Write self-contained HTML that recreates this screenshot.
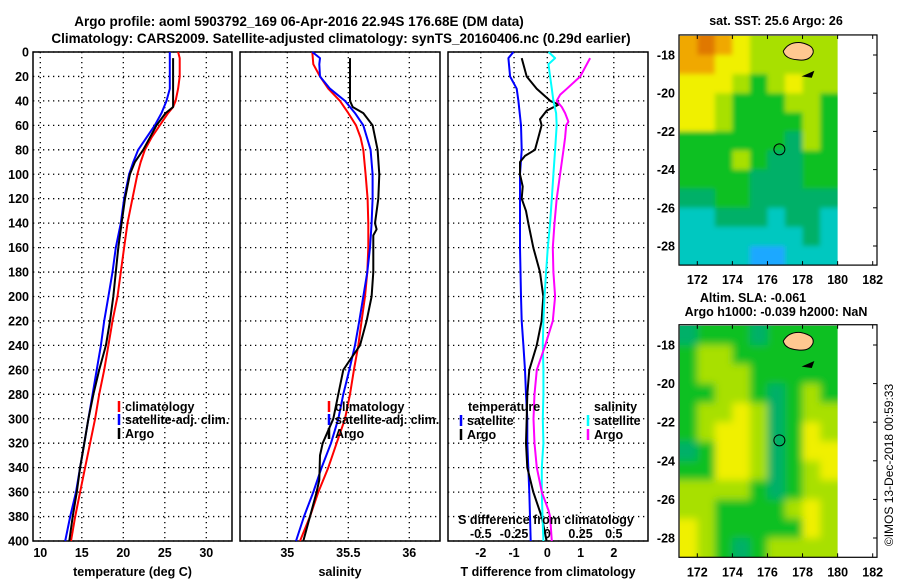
<!DOCTYPE html>
<html><head><meta charset="utf-8"><style>
html,body{margin:0;padding:0;background:#fff;width:900px;height:580px;overflow:hidden}
svg text{font-family:"Liberation Sans",sans-serif;font-weight:bold;fill:#000}
</style></head><body>
<svg id="chart" width="900" height="580" viewBox="0 0 900 580" xmlns="http://www.w3.org/2000/svg">
<text x="299" y="26" font-size="13.5" text-anchor="middle">Argo profile: aoml 5903792_169 06-Apr-2016 22.94S 176.68E (DM data)</text>
<text x="341" y="43" font-size="13.5" text-anchor="middle">Climatology: CARS2009. Satellite-adjusted climatology: synTS_20160406.nc (0.29d earlier)</text>
<g id="g1"></g>
<g id="g2"></g>
<g id="g3"></g>
<g id="m1"></g>
<g id="m2"></g>
<text x="776" y="25" font-size="12.5" text-anchor="middle">sat. SST: 25.6 Argo: 26</text>
<text x="753" y="302" font-size="12.5" text-anchor="middle">Altim. SLA: -0.061</text>
<text x="776" y="316" font-size="12.5" text-anchor="middle">Argo h1000: -0.039 h2000: NaN</text>
<text x="0" y="0" font-size="12" style="font-weight:normal" text-anchor="middle" transform="translate(893,465) rotate(-90)">©IMOS 13-Dec-2018 00:59:33</text>
</svg>
<script>
// ---- data ----
const depthTicks = [0,20,40,60,80,100,120,140,160,180,200,220,240,260,280,300,320,340,360,380,400];
const tempTicks = [10,15,20,25,30];
const salTicks = [35,35.5,36];
const tdiffTicks = [-2,-1,0,1,2];
const sdiffTicks = [-0.5,-0.25,0,0.25,0.5];
const sdiffLabels = ["-0.5","-0.25","0","0.25","0.5"];

const tClimDepth = [0,5,20,30,40,45,50,60,70,80,90,100,120,140,160,180,200,220,240,260,280,300,320,340,360,380,400];
const tClim = [26.6,26.8,26.8,26.6,26.3,26.0,25.4,24.4,23.4,22.6,22.1,21.7,21.1,20.5,20.1,19.7,19.3,18.7,18.2,17.7,17.1,16.6,16.0,15.4,14.8,14.2,13.7];
const tSatDepth = [0,30,40,50,60,70,80,90,100,120,140,160,180,200,220,240,260,280,300,320,340,360,380,400];
const tSat = [25.6,25.6,25.2,24.6,23.8,22.8,21.8,21.2,20.7,20.1,19.7,19.1,18.7,18.2,17.7,17.3,16.8,16.3,15.8,15.3,14.8,14.3,13.6,13.0];
const tArgoDepth = [5,40,45,50,60,70,80,90,100,120,140,160,180,200,220,240,260,280,300,320,340,360,380,400];
const tArgo = [26.0,26.0,26.0,25.1,24.0,23.2,22.4,21.4,20.8,20.2,19.8,19.4,19.1,18.8,18.4,17.9,17.1,16.4,15.8,15.3,14.8,14.4,13.9,13.5];

const sClimDepth = [0,10,20,30,40,50,60,70,80,100,120,140,160,180,200,220,240,260,280,300,320,340,360,380,400];
const sClim = [35.205,35.213,35.268,35.336,35.432,35.500,35.563,35.601,35.623,35.642,35.658,35.664,35.664,35.656,35.637,35.609,35.582,35.546,35.514,35.473,35.404,35.336,35.254,35.186,35.104];
const sSatDepth = [0,5,10,20,30,40,50,60,80,100,120,140,160,180,200,220,240,260,280,300,320,340,360,380,400];
const sSat = [35.205,35.268,35.262,35.268,35.350,35.473,35.555,35.623,35.683,35.699,35.699,35.691,35.678,35.656,35.623,35.590,35.555,35.508,35.459,35.418,35.358,35.281,35.213,35.137,35.071];
const sArgoDepth = [5,40,45,50,60,80,100,120,140,145,150,180,200,220,240,250,260,280,300,320,330,350,360,380,400];
const sArgo = [35.514,35.514,35.536,35.623,35.699,35.740,35.754,35.746,35.719,35.732,35.705,35.705,35.691,35.650,35.596,35.527,35.459,35.418,35.377,35.290,35.268,35.262,35.240,35.186,35.131];

const dTSatDepth = [0,5,20,30,40,60,80,100,120,160,200,220,240,260,280,300,320,340,360,380,400];
const dTSat = [-1.02,-1.17,-1.12,-0.92,-0.87,-0.79,-0.77,-0.82,-0.82,-0.82,-0.79,-0.77,-0.72,-0.67,-0.64,-0.60,-0.60,-0.57,-0.54,-0.52,-0.50];
const dTArgoDepth = [5,20,30,40,43,48,55,60,70,80,85,90,100,110,120,130,140,160,180,200,220,240,260,280,300,320,340,360,380,400];
const dTArgo = [-0.77,-0.62,-0.32,0.09,0.34,-0.02,-0.22,-0.17,-0.27,-0.37,-0.67,-0.82,-0.82,-0.74,-0.77,-0.64,-0.57,-0.42,-0.22,-0.12,-0.17,-0.32,-0.54,-0.60,-0.62,-0.64,-0.60,-0.42,-0.17,-0.02];
const dSSatDepth = [0,5,10,20,30,40,50,60,80,100,120,140,160,180,200,220,240,260,280,300,320,340,360,380,400];
const dSSat = [0.009,0.059,0.009,0.021,0.034,0.046,0.066,0.071,0.059,0.046,0.034,0.021,0.004,-0.009,-0.021,-0.029,-0.034,-0.029,-0.029,-0.034,-0.029,-0.041,-0.041,-0.036,-0.029];
const dSArgoDepth = [5,20,30,35,40,45,50,57,60,70,80,100,120,140,160,180,200,220,240,260,280,300,320,340,360,375,380,400];
const dSArgo = [0.322,0.247,0.147,0.096,0.071,0.109,0.134,0.159,0.142,0.134,0.122,0.096,0.071,0.054,0.041,0.046,0.059,0.041,-0.016,-0.079,-0.096,-0.104,-0.096,-0.079,-0.041,0.009,0.021,0.034];

const mapLons = [171,172,173,174,175,176,177,178,179];
const mapLats = [-17,-18,-19,-20,-21,-22,-23,-24,-25,-26,-27,-28];
const lonTicks = [172,174,176,178,180,182];
const latTicks = [-18,-20,-22,-24,-26,-28];
const sstGrid = [
[6,7,6,5,4,4,4,4,4],
[6,6,5,5,4,4,4,4,4],
[5,5,5,4,3,4,5,4,4],
[5,5,4,3,3,3,4,4,3],
[5,5,4,3,3,3,3,4,3],
[3,3,3,3,3,3,2,4,3],
[3,3,3,4,3,2,2,3,3],
[3,3,3,3,2,2,2,3,3],
[2,2,3,3,2,2,2,2,2],
[1,1,2,2,2,1,2,2,1],
[1,1,1,1,1,1,1,2,1],
[1,1,1,1,0,0,1,1,1]];
const slaGrid = [
[2,3,3,3,2,3,3,3,3],
[3,4,4,3,3,3,3,3,3],
[3,4,4,4,3,3,3,3,3],
[3,3,4,4,3,2,3,4,3],
[3,4,4,5,4,2,3,4,4],
[3,4,5,5,4,2,3,5,4],
[2,3,5,5,4,2,3,5,5],
[3,3,5,5,4,2,3,4,5],
[4,4,4,4,3,2,3,4,4],
[4,4,3,3,3,3,4,5,4],
[5,4,3,3,3,3,3,5,4],
[5,4,3,2,3,4,4,4,4]];
const argoLon = 176.68, argoLat = -22.94;

// ---- scales ----
const NS = "http://www.w3.org/2000/svg";
const yD = d => 52 + d*(541-52)/400;
const xT = t => 40.3 + (t-10)*8.3;
const xS = s => 287.3 + (s-35)*122;
const xDT = t => 547.3 + t*33.25;
const xDS = s => 547.3 + s*133;
const mx = lon => 697.3 + (lon-172)*17.54;
const my1 = lat => 55 - (lat+18)*19.1;
const my2 = lat => 345 - (lat+18)*19.3;
const palette = ["#1ea8ff","#00c8c0","#00b068","#10c020","#a8e000","#f0f000","#f0a800","#e07800"];

function el(tag, attrs, parent){const e=document.createElementNS(NS,tag);for(const k in attrs)e.setAttribute(k,attrs[k]);parent.appendChild(e);return e;}
function txt(parent,x,y,s,anchor,size){const t=el('text',{x:x,y:y,'font-size':size||12.5,'text-anchor':anchor||'middle'},parent);t.textContent=s;return t;}

function panel(g,x0,x1,xticks,xf,xlabels,xtitle){
  depthTicks.forEach(d=>{
    const l=el('line',{x1:x0,x2:x1,y1:yD(d),y2:yD(d),stroke:'#000','stroke-width':1.3,'stroke-dasharray':'1.3,3.7'},g);
    
    
  });
  xticks.forEach((v,i)=>{
    const l=el('line',{x1:xf(v),x2:xf(v),y1:52,y2:541,stroke:'#000','stroke-width':1.3,'stroke-dasharray':'1.3,3.7'},g);
    
    
    const t=txt(g,xf(v),557,xlabels[i]);
    
    
  });
  const r=el('rect',{x:x0,y:52,width:x1-x0,height:489,fill:'none',stroke:'#000','stroke-width':1.5},g);
  
  
  const tt=txt(g,(x0+x1)/2,576,xtitle);
  
  
}
function series(g,depths,vals,xf,color,name){
  const pts=depths.map((d,i)=>xf(vals[i]).toFixed(1)+','+yD(d).toFixed(1)).join(' ');
  const p=el('polyline',{points:pts,fill:'none',stroke:color,'stroke-width':2,'stroke-linejoin':'round'},g);
  
  
}
function legend(g,x,y,color,label){
  const l=el('line',{x1:x,x2:x,y1:y-10,y2:y+1,stroke:color,'stroke-width':2.5},g);
  
  
  const t=txt(g,x+6,y,label,'start');
  
  
}

const g1=document.getElementById('g1'),g2=document.getElementById('g2'),g3=document.getElementById('g3');
panel(g1,33,232,tempTicks,xT,tempTicks.map(String),'temperature (deg C)');
depthTicks.forEach(d=>{
  const t=txt(g1,29,yD(d)+4.5,String(d),'end');
  
  
});
series(g1,tClimDepth,tClim,xT,'#ff0000','temp-climatology-line');
series(g1,tSatDepth,tSat,xT,'#0000ff','temp-satellite-line');
series(g1,tArgoDepth,tArgo,xT,'#000000','temp-argo-line');
legend(g1,119,411,'#ff0000','climatology');
legend(g1,119,424,'#0000ff','satellite-adj. clim.');
legend(g1,119,438,'#000000','Argo');

panel(g2,240,440,salTicks,xS,salTicks.map(String),'salinity');
series(g2,sClimDepth,sClim,xS,'#ff0000','sal-climatology-line');
series(g2,sSatDepth,sSat,xS,'#0000ff','sal-satellite-line');
series(g2,sArgoDepth,sArgo,xS,'#000000','sal-argo-line');
legend(g2,329,411,'#ff0000','climatology');
legend(g2,329,424,'#0000ff','satellite-adj. clim.');
legend(g2,329,438,'#000000','Argo');

panel(g3,448,648,tdiffTicks,xDT,tdiffTicks.map(String),'T difference from climatology');
series(g3,dTSatDepth,dTSat,xDT,'#0000ff','tdiff-satellite-line');
series(g3,dTArgoDepth,dTArgo,xDT,'#000000','tdiff-argo-line');
series(g3,dSSatDepth,dSSat,xDS,'#00ffff','sdiff-satellite-line');
series(g3,dSArgoDepth,dSArgo,xDS,'#ff00ff','sdiff-argo-line');
{const t=txt(g3,468,411,'temperature','start');}
{const t=txt(g3,594,411,'salinity','start');}
legend(g3,461,425,'#0000ff','satellite');
legend(g3,461,439,'#000000','Argo');
legend(g3,588,425,'#00ffff','satellite');
legend(g3,588,439,'#ff00ff','Argo');
{const t=txt(g3,546,524,'S difference from climatology');}
sdiffTicks.forEach((v,i)=>{
  const t=txt(g3,xDS(v),538,sdiffLabels[i]);
  
  
});

function drawMap(g,grid,my,blur,id){
  const defs=el('defs',{},g);
  const cp=el('clipPath',{id:'clip'+id},defs);
  el('rect',{x:mx(171),y:my(-17),width:mx(180)-mx(171),height:my(-29)-my(-17)},cp);
  const cells=el('g',{'clip-path':'url(#clip'+id+')'},g);
  const inner=el('g',blur?{filter:'url(#blur'+id+')'}:{},cells);
  if(blur){const f=el('filter',{id:'blur'+id,x:'-10%',y:'-10%',width:'120%',height:'120%'},defs);el('feGaussianBlur',{stdDeviation:blur},f);}
  grid.forEach((row,r)=>row.forEach((v,c)=>{
    const lon=mapLons[c],lat=mapLats[r];
    const x0=mx(lon)-(blur?(c==0?20:0):0), x1=mx(lon+1)+(blur?(c==row.length-1?20:0):0);
    const y0=my(lat)-(blur&&r==0?20:0), y1=my(lat-1)+(blur&&r==grid.length-1?20:0);
    const rc=el('rect',{x:x0,y:y0,width:x1-x0+0.5,height:y1-y0+0.5,fill:palette[v]},inner);
    
    
  }));
  const land=el('path',{d:`M${mx(176.9)},${my(-17.8)} Q${mx(177.2)},${my(-17.3)} ${mx(177.9)},${my(-17.35)} Q${mx(178.7)},${my(-17.5)} ${mx(178.6)},${my(-17.9)} Q${mx(178.4)},${my(-18.35)} ${mx(177.7)},${my(-18.25)} Q${mx(177.0)},${my(-18.2)} ${mx(176.9)},${my(-17.8)}Z`,fill:'#ffc890',stroke:'#000','stroke-width':1},g);
  
  
  const land2=el('path',{d:`M${mx(178.1)},${my(-19.1)} L${mx(178.6)},${my(-18.9)} L${mx(178.5)},${my(-19.15)} Z`,fill:'#000',stroke:'#000','stroke-width':1.5},g);
  
  
  const circ=el('circle',{cx:mx(argoLon),cy:my(argoLat),r:5.5,fill:'none',stroke:'#000','stroke-width':1},g);
  
  
  const fr=el('rect',{x:679,y:my(-16.95),width:198,height:my(-29)-my(-16.95),fill:'none',stroke:'#000','stroke-width':1.2},g);
  
  
  const yb=my(-29);
  lonTicks.forEach(v=>{
    el('line',{x1:mx(v),x2:mx(v),y1:yb,y2:yb-4,stroke:'#000'},g);
    el('line',{x1:mx(v),x2:mx(v),y1:my(-16.95),y2:my(-16.95)+4,stroke:'#000'},g);
    const t=txt(g,mx(v),yb+19,String(v));
    
    
  });
  latTicks.forEach(v=>{
    el('line',{x1:877,x2:873,y1:my(v),y2:my(v),stroke:'#000'},g);
    const t=txt(g,675,my(v)+4.5,String(v),'end');
    
    
  });
}
drawMap(document.getElementById('m1'),sstGrid,my1,2.5,'a');
drawMap(document.getElementById('m2'),slaGrid,my2,4,'b');
</script>
</body></html>
